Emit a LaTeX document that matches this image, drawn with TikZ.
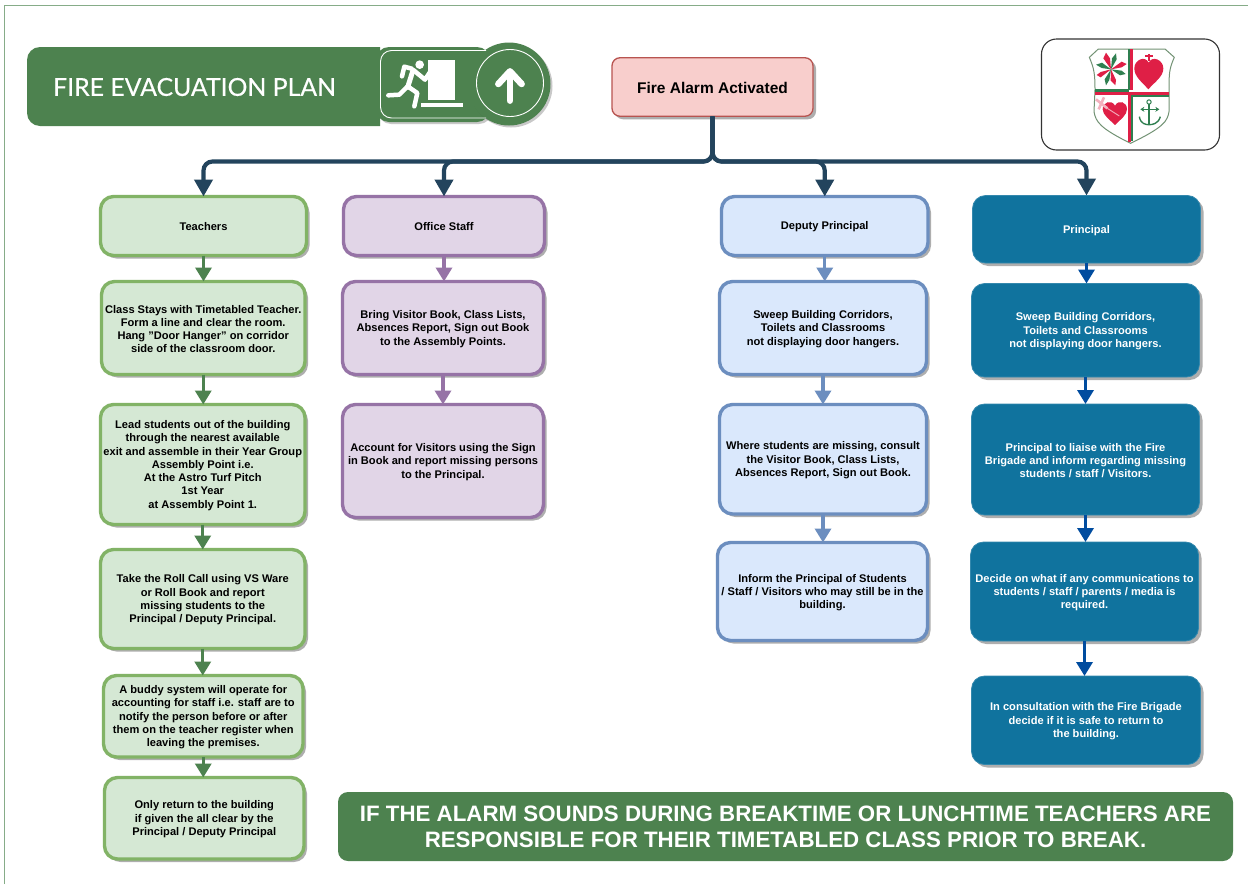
\documentclass[tikz,border=0pt]{standalone}
\usepackage{fontspec}
\setmainfont{Liberation Sans}
\newfontfamily\titlefont[FakeBold=0.35]{Lato}
\usetikzlibrary{shadows,arrows.meta}
\definecolor{gfill}{HTML}{D5E8D4}\definecolor{gline}{HTML}{82B366}
\definecolor{pfill}{HTML}{E1D5E7}\definecolor{pline}{HTML}{9673A6}
\definecolor{bfill}{HTML}{DAE8FC}\definecolor{bline}{HTML}{6C8EBF}
\definecolor{rfill}{HTML}{F8CECC}\definecolor{rline}{HTML}{B85450}
\definecolor{teal}{HTML}{10739E}\definecolor{navy}{HTML}{23445D}
\definecolor{forest}{HTML}{4D824F}\definecolor{royal}{HTML}{004C9F}
\definecolor{frame}{HTML}{86AC88}\definecolor{crest}{HTML}{DF1F46}\definecolor{crestg}{HTML}{2F7F50}
\tikzset{
  base/.style={rounded corners=13pt,align=center,inner sep=0pt,outer sep=0pt,text=black,
    font=\bfseries\fontsize{11.1}{13.3}\selectfont,
    drop shadow={shadow xshift=3pt,shadow yshift=-3pt,fill=black!70,opacity=.45}},
  boxg/.style={base,draw=gline,fill=gfill,line width=3.4pt},
  boxp/.style={base,draw=pline,fill=pfill,line width=3.4pt},
  boxb/.style={base,draw=bline,fill=bfill,line width=3.4pt},
  boxt/.style={base,draw=teal!85!white,fill=teal,text=white,line width=.8pt},
  arrowg/.style={draw=forest,line width=3.4pt,-{Triangle[width=16pt,length=14pt]}},
  arrowp/.style={draw=pline,line width=3.4pt,-{Triangle[width=16pt,length=14pt]}},
  arrowb/.style={draw=bline,line width=3.4pt,-{Triangle[width=16pt,length=14pt]}},
  arrowt/.style={draw=royal,line width=3.4pt,-{Triangle[width=16pt,length=14pt]}},
  bus/.style={draw=navy,line width=4.2pt,rounded corners=9pt,-{Triangle[width=18pt,length=17pt]}},
  whiteline/.style={draw=white,line width=4.5pt,line cap=round,line join=round}
}
\newcommand{\bx}[7]{%
  \pgfmathsetmacro\cxx{(#3+#5)/2}\pgfmathsetmacro\cyy{(#4+#6)/2}%
  \pgfmathsetmacro\www{#5-#3}\pgfmathsetmacro\hhh{#6-#4}%
  \node[#2,minimum width=\www pt,minimum height=\hhh pt] (#1) at (\cxx,\cyy) {\rule{0pt}{10pt}#7};}
\newcommand{\varrow}[3]{\draw[#1] (#2.south) -- (#2.south |- #3.north);}
\begin{document}
\begin{tikzpicture}[x=1pt,y=-1pt]
\useasboundingbox (0,0) rectangle (1248,884);
\fill[white] (0,0) rectangle (1248,884);
\draw[frame,line width=1.2pt] (4.5,884) -- (4.5,5.5) -- (1248,5.5);

% title banner
\fill[forest] (380,47) [rounded corners=13pt] -- (27,47) -- (27,126) [sharp corners] -- (380,126) -- cycle;
\node[inner sep=0pt,text=white,font=\titlefont\fontsize{24.8}{30}\selectfont,anchor=west] (title) at (53,87) {FIRE EVACUATION PLAN};
\fill[forest,rounded corners=13pt,drop shadow={shadow xshift=2pt,shadow yshift=-2pt,fill=black!70,opacity=.3}] (376,47) rectangle (490,122);
\fill[forest,drop shadow={shadow xshift=2pt,shadow yshift=-2pt,fill=black!70,opacity=.3}] (509,84) circle (41.5);
\draw[white,line width=.9pt,rounded corners=11pt] (486,50.5) -- (380.5,50.5) -- (380.5,118) -- (486,118);
\draw[white,line width=.9pt] (510,83) circle (33.5);
\begin{scope}[shift={(370,38)},x=.3333pt,y=-.3333pt]
 \fill[white] (173,67) rectangle (256,187);
 \fill[white] (152,196) rectangle (278,207);
 \fill[white] (149,80) circle (13);
 \draw[whiteline,line width=5pt] (128,100) -- (113,148);
 \draw[whiteline] (125,92) -- (103,86) -- (96,115);
 \draw[whiteline] (130,96) -- (165,125) -- (183,98);
 \draw[whiteline] (113,145) -- (88,170) -- (55,172);
 \draw[whiteline] (113,145) -- (142,165) -- (133,205);
 \draw[draw=white,line width=6.5pt,line cap=round,line join=round] (385,138) -- (420,100) -- (455,138);
 \draw[draw=white,line width=6.5pt,line cap=round] (420,105) -- (420,188);
\end{scope}

% logo
\node[draw=black!80,line width=1.1pt,rounded corners=15pt,minimum width=178pt,minimum height=111pt,inner sep=0pt,fill=white] (logo) at (1130.5,94.5) {};
\begin{scope}[shift={(1080,40)},x=.3333pt,y=-.3333pt]
 \draw[draw=frame!85!black,line width=1pt,fill=white,line join=round] (55,27) -- (255,27) -- (283,52) .. controls (268,85) and (267,100) .. (267,150) -- (267,215) .. controls (262,245) and (250,262) .. (152,310) .. controls (60,265) and (47,245) .. (42,215) -- (45,150) .. controls (45,100) and (42,85) .. (28,52) -- cycle;
 \fill[crestg] (143,27) rectangle (151,150);
 \fill[crest] (151,27) rectangle (160,150);
 \fill[crestg] (45,146) rectangle (148,156);
 \fill[crest] (45,156) rectangle (267,164);
 \fill[crestg] (160,164) rectangle (267,171);
 \fill[crest] (145,164) rectangle (152,305);
 \fill[crestg] (152,164) rectangle (160,302);
 % cross
 \fill[crest] (93,88) -- (70,55) -- (78,38) -- (90,55) -- cycle;
 \fill[crestg] (93,88) -- (96,55) -- (108,40) -- (110,58) -- cycle;
 \fill[crest] (93,88) -- (125,65) -- (140,72) -- (125,82) -- cycle;
 \fill[crestg] (93,88) -- (125,92) -- (137,102) -- (120,106) -- cycle;
 \fill[crest] (93,88) -- (108,120) -- (106,136) -- (92,122) -- cycle;
 \fill[crestg] (93,88) -- (88,120) -- (78,136) -- (74,118) -- cycle;
 \fill[crest] (93,88) -- (62,112) -- (50,105) -- (62,96) -- cycle;
 \fill[crestg] (93,88) -- (65,84) -- (48,74) -- (66,68) -- cycle;
 % top heart
 \fill[crest] (205,148) .. controls (185,125) and (163,110) .. (163,85) .. controls (163,60) and (195,45) .. (206,68) .. controls (217,45) and (250,60) .. (250,85) .. controls (250,110) and (225,125) .. (205,148) -- cycle;
 \fill[crest] (204,42) rectangle (210,62);
 \fill[crest] (196,46) rectangle (218,52);
 % bottom heart
 \fill[crest] (105,255) .. controls (90,240) and (68,225) .. (68,208) .. controls (68,185) and (95,178) .. (105,197) .. controls (115,178) and (141,185) .. (141,208) .. controls (141,225) and (120,240) .. (105,255) -- cycle;
 \draw[draw=crest!35,line width=2.6pt] (48,178) -- (82,205);
 \draw[draw=crest!35,line width=2.6pt] (72,172) -- (56,208);
 \draw[draw=crest!40,line width=1pt] (82,205) -- (118,228);
 % anchor
 \draw[crestg,line width=1pt] (207,186) circle (6.5);
 \draw[crestg,line width=1.4pt] (207,192) -- (207,252);
 \draw[crestg,line width=1.4pt,{Stealth[length=4pt,width=5pt]}-{Stealth[length=4pt,width=5pt]}] (181,208) -- (238,208);
 \draw[crestg,line width=1.4pt] (178,230) .. controls (182,252) and (197,254) .. (207,254) .. controls (217,254) and (235,252) .. (241,230);
\end{scope}

% source
\node[base,draw=rline,fill=rfill,line width=1.3pt,rounded corners=8pt,font=\bfseries\fontsize{15.5}{18}\selectfont,minimum width=201pt,minimum height=58.5pt] (fire) at (712.5,87) {\rule{0pt}{13pt}Fire Alarm Activated};

% teachers
\bx{t0}{boxg}{100.5}{196.5}{306.5}{255.5}{Teachers}
\bx{t1}{boxg}{101.5}{281.5}{305}{374.5}{Class Stays with Timetabled Teacher.\\Form a line and clear the room.\\Hang "Door Hanger" on corridor\\side of the classroom door.}
\bx{t2}{boxg}{100.5}{404.5}{305}{524.5}{Lead students out of the building\\through the nearest available\\exit and assemble in their Year Group\\Assembly Point i.e.\\At the Astro Turf Pitch\\1st Year\\at Assembly Point 1.}
\bx{t3}{boxg}{100.5}{549.5}{305}{648.5}{Take the Roll Call using VS Ware\\or Roll Book and report\\missing students to the\\Principal / Deputy Principal.}
\bx{t4}{boxg}{103.5}{675.5}{303}{757}{A buddy system will operate for\\accounting for staff i.e. staff are to\\notify the person before or after\\them on the teacher register when\\leaving the premises.}
\bx{t5}{boxg}{104.5}{777.5}{304}{859}{Only return to the building\\if given the all clear by the\\Principal / Deputy Principal}
% office
\bx{o0}{boxp}{343.5}{196.5}{544.5}{255.5}{Office Staff}
\bx{o1}{boxp}{342.5}{281.5}{543.5}{374.5}{Bring Visitor Book, Class Lists,\\Absences Report, Sign out Book\\to the Assembly Points.}
\bx{o2}{boxp}{342.5}{404.5}{543.5}{517.5}{Account for Visitors using the Sign\\in Book and report missing persons\\to the Principal.}
% deputy
\bx{d0}{boxb}{721.5}{196.5}{928}{255.5}{Deputy Principal}
\bx{d1}{boxb}{719.5}{281.5}{926.5}{374.5}{Sweep Building Corridors,\\Toilets and Classrooms\\not displaying door hangers.}
\bx{d2}{boxb}{719.5}{404.5}{926.5}{514}{Where students are missing, consult\\the Visitor Book, Class Lists,\\Absences Report, Sign out Book.}
\bx{d3}{boxb}{717.5}{542.5}{927.5}{640.5}{Inform the Principal of Students\\/ Staff / Visitors who may still be in the\\building.}
% principal
\bx{p0}{boxt}{972.5}{195.5}{1200.5}{263}{Principal}
\bx{p1}{boxt}{971.5}{283.5}{1199.5}{377}{Sweep Building Corridors,\\Toilets and Classrooms\\not displaying door hangers.}
\bx{p2}{boxt}{971.5}{404}{1199.5}{515}{Principal to liaise with the Fire\\Brigade and inform regarding missing\\students / staff / Visitors.}
\bx{p3}{boxt}{970.5}{542}{1198.5}{641}{Decide on what if any communications to\\students / staff / parents / media is\\required.}
\bx{p4}{boxt}{971.5}{676}{1200.5}{764.5}{In consultation with the Fire Brigade\\decide if it is safe to return to\\the building.}

% notice
\node[fill=forest,rounded corners=10pt,inner sep=0pt,minimum width=895pt,minimum height=69pt,text=white,align=center,font=\bfseries\fontsize{22.3}{26.5}\selectfont] (note) at (785.5,826.5) {\rule{0pt}{16pt}IF THE ALARM SOUNDS DURING BREAKTIME OR LUNCHTIME TEACHERS ARE\\RESPONSIBLE FOR THEIR TIMETABLED CLASS PRIOR TO BREAK.};

% connectors
\coordinate (busy) at (0,161.5);
\foreach \n in {t0,o0,d0,p0}{
  \draw[bus] (fire.south) -- (fire.south |- busy) -- (\n.north |- busy) -- (\n.north);
}
\varrow{arrowg}{t0}{t1}\varrow{arrowg}{t1}{t2}\varrow{arrowg}{t2}{t3}\varrow{arrowg}{t3}{t4}\varrow{arrowg}{t4}{t5}
\varrow{arrowp}{o0}{o1}\varrow{arrowp}{o1}{o2}
\varrow{arrowb}{d0}{d1}\varrow{arrowb}{d1}{d2}\varrow{arrowb}{d2}{d3}
\varrow{arrowt}{p0}{p1}\varrow{arrowt}{p1}{p2}\varrow{arrowt}{p2}{p3}\varrow{arrowt}{p3}{p4}
\end{tikzpicture}
\end{document}
